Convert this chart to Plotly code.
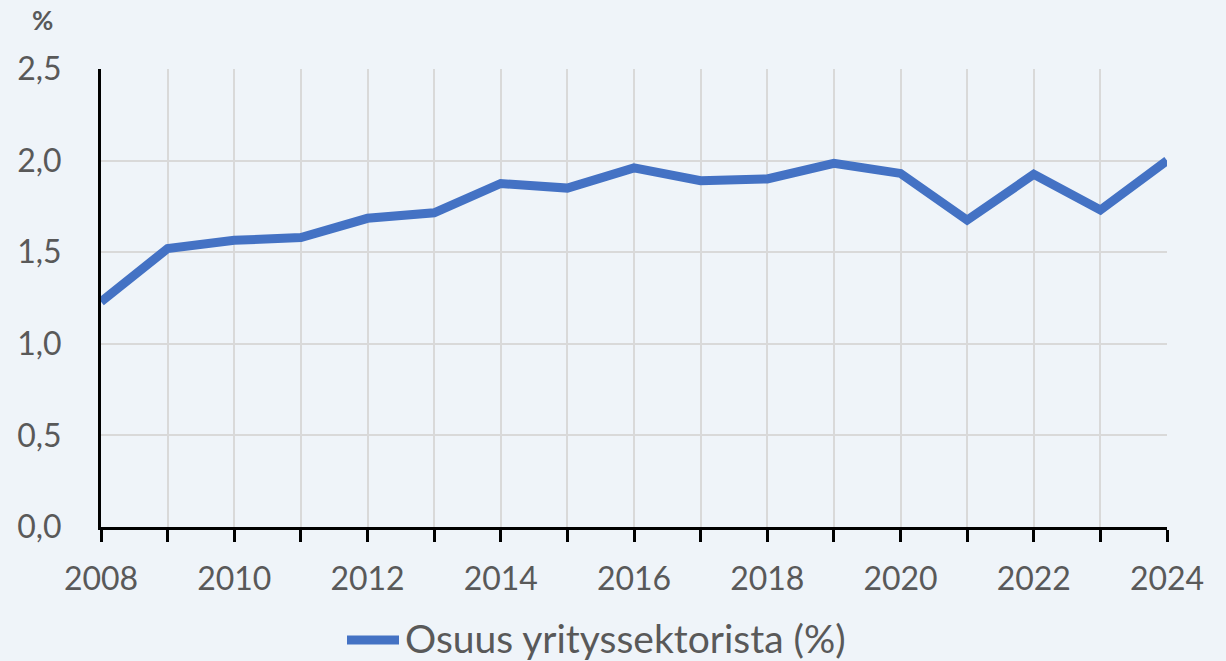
import plotly.graph_objects as go

years = list(range(2008, 2025))
values = [1.23, 1.52, 1.565, 1.58, 1.685, 1.715, 1.875, 1.85, 1.96, 1.89, 1.90, 1.985, 1.93, 1.675, 1.925, 1.73, 2.00]
series_name = "Osuus yrityssektorista (%)"
y_ticks = [0, 0.5, 1.0, 1.5, 2.0, 2.5]

font_family = "Lato, 'Open Sans', sans-serif"
text_color = "#595959"
bg = "#EFF4F9"
line_color = "#4472C4"

L, R, T, B = 101, 59, 69, 134
W, H = 1226, 661
pw, ph = W - L - R, H - T - B


def px_x(px):
    return (px - L) / pw


def px_y(py):
    return (H - B - py) / ph


fig = go.Figure()
fig.add_trace(go.Scatter(
    x=years, y=values, mode="lines", name=series_name,
    line=dict(color=line_color, width=9, shape="linear"),
    cliponaxis=False, showlegend=False,
))

fig.update_layout(
    width=W, height=H,
    paper_bgcolor=bg, plot_bgcolor=bg,
    margin=dict(l=L, r=R, t=T, b=B),
    separators=", ",
    font=dict(family=font_family, color=text_color, size=32),
    showlegend=False,
    annotations=[
        dict(text="<b>%</b>", x=px_x(42), y=px_y(20), xref="paper", yref="paper",
             xanchor="center", yanchor="middle", showarrow=False,
             font=dict(size=26, color=text_color)),
        dict(text=series_name, x=px_x(404), y=px_y(638), xref="paper", yref="paper",
             xanchor="left", yanchor="middle", showarrow=False, borderpad=0,
             font=dict(size=39, color=text_color)),
    ],
    shapes=[
        dict(type="line", xref="paper", yref="paper",
             x0=px_x(347), x1=px_x(399), y0=px_y(640), y1=px_y(640),
             line=dict(color=line_color, width=9)),
    ],
)

fig.update_xaxes(
    range=[2008, 2024],
    tickvals=years,
    ticktext=[str(y) if (y - 2008) % 2 == 0 else "" for y in years],
    showgrid=True, gridcolor="#D9D9D9", gridwidth=2,
    showline=True, linecolor="black", linewidth=3,
    ticks="outside", ticklen=12, tickwidth=3, tickcolor="black",
    ticklabelstandoff=10,
    tickfont=dict(size=32, color=text_color),
    zeroline=False,
)
fig.update_yaxes(
    range=[0, 2.5],
    tickvals=y_ticks, tickformat=".1f",
    showgrid=True, gridcolor="#D9D9D9", gridwidth=2,
    showline=True, linecolor="black", linewidth=3,
    ticks="", ticklabelstandoff=30,
    tickfont=dict(size=32, color=text_color),
    zeroline=False,
)

fig.write_html("out.html",
               config={"displayModeBar": False},
               post_script="document.body.style.margin='0';document.body.style.overflow='hidden';document.body.style.background='%s';" % bg)
